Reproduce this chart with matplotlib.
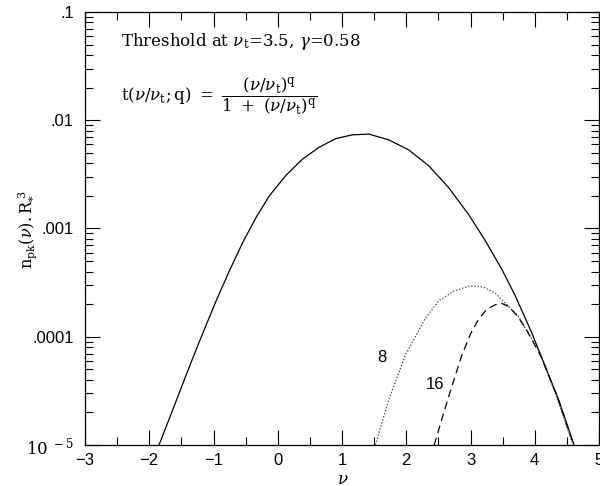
import matplotlib
matplotlib.use("Agg")
import matplotlib.pyplot as plt
from matplotlib.ticker import MultipleLocator, LogLocator, NullFormatter

plt.rcParams['font.family'] = ['DejaVu Serif']
plt.rcParams['mathtext.fontset'] = 'dejavuserif'
plt.rcParams['lines.scale_dashes'] = False

# Differential peak density n_pk(nu) R*^3 without threshold
nu_all = [-1.848, -1.631, -1.424, -1.217, -0.96, -0.752, -0.546, -0.339, -0.132,
          0.126, 0.384, 0.643, 0.901, 1.16, 1.419, 1.729, 2.039, 2.349, 2.659,
          2.969, 3.227, 3.486, 3.692, 3.95, 4.364, 4.612]
n_all = [1.00e-5, 2.14e-5, 4.47e-5, 9.12e-5, 2.14e-4, 4.07e-4, 7.41e-4, 1.26e-3,
         2.00e-3, 3.09e-3, 4.37e-3, 5.62e-3, 6.76e-3, 7.33e-3, 7.45e-3, 6.59e-3,
         5.32e-3, 3.80e-3, 2.39e-3, 1.35e-3, 7.78e-4, 4.21e-4, 2.42e-4, 1.10e-4,
         2.69e-5, 1.00e-5]

# Thresholded peaks, q = 8
nu_q8 = [1.52, 1.729, 1.986, 2.296, 2.504, 2.75, 2.994, 3.2, 3.381, 3.744,
         4.054, 4.313, 4.597]
n_q8 = [1.0e-5, 2.63e-5, 6.76e-5, 1.48e-4, 2.14e-4, 2.66e-4, 2.95e-4, 2.88e-4,
        2.54e-4, 1.55e-4, 7.59e-5, 3.09e-5, 1.0e-5]

# Thresholded peaks, q = 16
nu_q16 = [2.435, 2.55, 2.659, 2.865, 3.0, 3.124, 3.25, 3.381, 3.48, 3.589, 3.72,
          3.847, 4.105, 4.364, 4.607]
n_q16 = [1.0e-5, 1.70e-5, 2.79e-5, 6.76e-5, 1.06e-4, 1.45e-4, 1.78e-4, 1.97e-4,
         2.04e-4, 1.91e-4, 1.58e-4, 1.23e-4, 6.46e-5, 2.66e-5, 1.0e-5]

x_ticks = [-3, -2, -1, 0, 1, 2, 3, 4, 5]
y_ticks = [1e-5, 1e-4, 1e-3, 1e-2, 1e-1]
y_ticklabels = [r'$10^{\ -5}$', '.0001', '.001', '.01', '.1']

fig = plt.figure(figsize=(6.0, 4.86), dpi=100)
ax = fig.add_axes([85 / 600, 41 / 486, 514 / 600, 433 / 486])

ax.plot(nu_all, n_all, color='black', lw=0.9)
ax.plot(nu_q8, n_q8, color='#444444', lw=0.9, linestyle=(0, (1.0, 1.3)))
ax.plot(nu_q16, n_q16, color='black', lw=0.9, linestyle=(0, (5.5, 3.5)))

ax.set_yscale('log')
ax.set_xlim(-3, 5)
ax.set_ylim(1e-5, 0.1)

ax.set_xticks(x_ticks)
ax.set_xticklabels([f'{t:d}'.replace('-', '\u2212') for t in x_ticks],
                   family='Liberation Sans', fontsize=12)
ax.xaxis.set_minor_locator(MultipleLocator(0.5))
ax.set_yticks(y_ticks)
ax.set_yticklabels(y_ticklabels, family='Liberation Sans', fontsize=12)
ax.yaxis.set_minor_locator(LogLocator(base=10, subs=range(2, 10)))
ax.yaxis.set_minor_formatter(NullFormatter())

ax.tick_params(which='both', direction='in', top=True, right=True, width=0.8)
ax.tick_params(which='major', length=11)
ax.tick_params(which='minor', length=5.5)
ax.tick_params(axis='x', which='major', pad=6)
ax.tick_params(axis='y', which='major', pad=8)
for s in ax.spines.values():
    s.set_linewidth(0.9)

ax.text(1.62, 6.5e-5, '8', family='Liberation Sans', fontsize=12,
        ha='center', va='center')
ax.text(2.44, 3.6e-5, '16', family='Liberation Sans', fontsize=12,
        ha='center', va='center')

fig.text(121 / 600, 1 - 41 / 486,
         r'Threshold at $\nu_\mathrm{t}$=3.5, $\gamma$=0.58',
         fontsize=12, ha='left', va='center')
fig.text(121 / 600, 1 - 96 / 486,
         r'$\mathrm{t}(\nu/\nu_\mathrm{t};\mathrm{q})\ =\ '
         r'\dfrac{(\nu/\nu_\mathrm{t})^\mathrm{q}}{1\ +\ (\nu/\nu_\mathrm{t})^\mathrm{q}}$',
         fontsize=12, ha='left', va='center')

fig.text(28 / 600, 1 - 229 / 486, r'$\mathrm{n_{pk}}(\nu).\mathrm{R}_{*}^{\ 3}$',
         fontsize=11.5, rotation=90, ha='center', va='center')
fig.text(343 / 600, 1 - 479 / 486, r'$\nu$', fontsize=12, ha='center', va='center')

fig.savefig('out.png', dpi=100)
